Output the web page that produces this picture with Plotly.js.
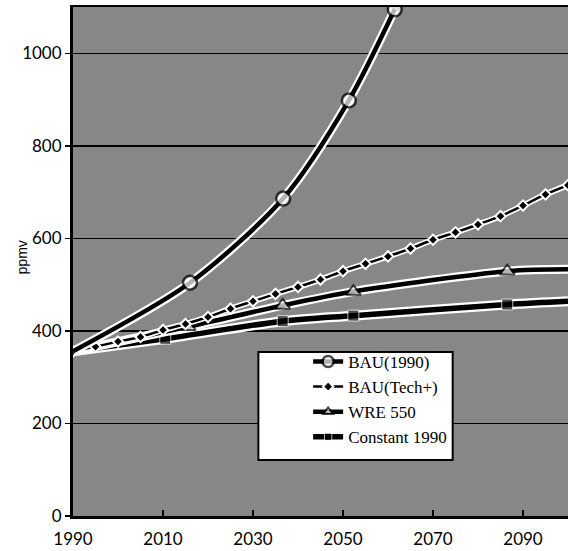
<!DOCTYPE html>
<html>
<head>
<meta charset="utf-8">
<script src="https://cdn.plot.ly/plotly-3.0.1.min.js"></script>
<style>html,body{margin:0;padding:0;background:#fff;}#chart{width:568px;height:551px;}</style>
</head>
<body>
<div id="chart"></div>
<script>
// Series names
const seriesNames = ["BAU(1990)", "BAU(Tech+)", "WRE 550", "Constant 1990"];

// BAU(1990)
const bauYears = [1990, 2016, 2036.7, 2051.3, 2061.5];
const bauVals  = [356, 504, 686, 898, 1095];

// BAU(Tech+)
const techYears = [1990, 1995, 2000, 2005, 2010, 2015, 2020, 2025, 2030, 2035, 2040, 2045, 2050, 2055, 2060, 2065, 2070, 2075, 2080, 2085, 2090, 2095, 2100];
const techVals  = [356, 366, 377, 387, 402, 415, 430, 448, 464, 480, 495, 511, 529, 545, 561, 578, 597, 613, 630, 648, 671, 695, 715];

// WRE 550
const wreYears = [1990, 2015.6, 2036.6, 2052.3, 2086.5, 2100];
const wreVals  = [356, 409, 455, 485, 529, 533];

// Constant 1990
const constYears = [1990, 2010.5, 2036.6, 2052.3, 2086.5, 2100];
const constVals  = [356, 383, 421, 433, 457, 464];

// Axis ticks
const xTicks = [1990, 2010, 2030, 2050, 2070, 2090];
const yTicks = [0, 200, 400, 600, 800, 1000];

function halo(x, y, w, shape) {
  return {x: x, y: y, type: 'scatter', mode: 'lines', showlegend: false, hoverinfo: 'skip',
          line: {color: '#ffffff', width: w, shape: shape, smoothing: 0.8}};
}

const traces = [
  halo(constYears, constVals, 10, 'spline'),
  {x: constYears, y: constVals, type: 'scatter', mode: 'lines+markers', name: seriesNames[3],
   line: {color: '#000', width: 5.5, shape: 'spline', smoothing: 0.8},
   marker: {symbol: 'square', color: '#000', size: [0, 11, 11, 11, 11, 0]}},
  halo(wreYears, wreVals, 9, 'spline'),
  {x: wreYears, y: wreVals, type: 'scatter', mode: 'lines+markers', name: seriesNames[2],
   line: {color: '#000', width: 4.5, shape: 'spline', smoothing: 0.8},
   marker: {symbol: 'triangle-up', color: '#fff', size: [0, 13, 13, 13, 13, 0], line: {color: '#000', width: 2}}},
  halo(techYears, techVals, 6, 'spline'),
  {x: techYears, y: techVals, type: 'scatter', mode: 'lines+markers', name: seriesNames[1],
   line: {color: '#000', width: 2.5, shape: 'spline', smoothing: 0.8},
   marker: {symbol: 'diamond', color: '#000', size: 8, line: {color: '#fff', width: 2}}},
  halo(bauYears, bauVals, 9, 'spline'),
  {x: bauYears, y: bauVals, type: 'scatter', mode: 'lines+markers', name: seriesNames[0],
   line: {color: '#000', width: 4.5, shape: 'spline', smoothing: 0.8},
   marker: {symbol: 'circle', color: '#fff', size: [0, 14, 14, 14, 14], line: {color: '#000', width: 2.5}}}
];

const layout = {
  width: 568, height: 551,
  margin: {l: 73, r: 0, t: 7, b: 35},
  paper_bgcolor: '#ffffff',
  plot_bgcolor: '#878787',
  showlegend: true,
  legend: {
    x: 0.475, y: 0.338, xanchor: 'left', yanchor: 'top',
    bgcolor: 'rgba(0,0,0,0)', borderwidth: 0,
    traceorder: 'reversed',
    font: {family: 'Liberation Serif', size: 17, color: '#000'}
  },
  xaxis: {
    range: [1990, 2100], tickvals: xTicks, ticktext: xTicks.map(String),
    showgrid: false, zeroline: false,
    showline: true, linecolor: '#000', linewidth: 2.5, mirror: true,
    ticks: 'inside', ticklen: 6, tickwidth: 1.5, tickcolor: '#000',
    ticklabelstandoff: 6,
    tickfont: {family: 'Lato', size: 17, color: '#000'}
  },
  yaxis: {
    range: [0, 1100], tickvals: yTicks, ticktext: yTicks.map(String),
    showgrid: true, gridcolor: '#000', gridwidth: 1.5, zeroline: false,
    showline: true, linecolor: '#000', linewidth: 3, mirror: false,
    ticks: 'outside', ticklen: 5, tickwidth: 1.5, tickcolor: '#000',
    tickfont: {family: 'Lato', size: 17, color: '#000'}
  },
  shapes: [
    {type: 'rect', xref: 'paper', yref: 'paper', x0: 0.3745, x1: 0.767, y0: 0.110, y1: 0.322,
     fillcolor: '#ffffff', line: {color: '#000', width: 2}, layer: 'above'}
  ],
  annotations: [
    {text: 'ppmv', xref: 'paper', yref: 'paper', x: -0.103, y: 0.508, xanchor: 'center', yanchor: 'middle',
     showarrow: false, textangle: -90, font: {family: 'Liberation Sans', size: 14, color: '#000'}}
  ]
};

Plotly.newPlot('chart', traces, layout, {displayModeBar: false, staticPlot: true});
</script>
</body>
</html>
